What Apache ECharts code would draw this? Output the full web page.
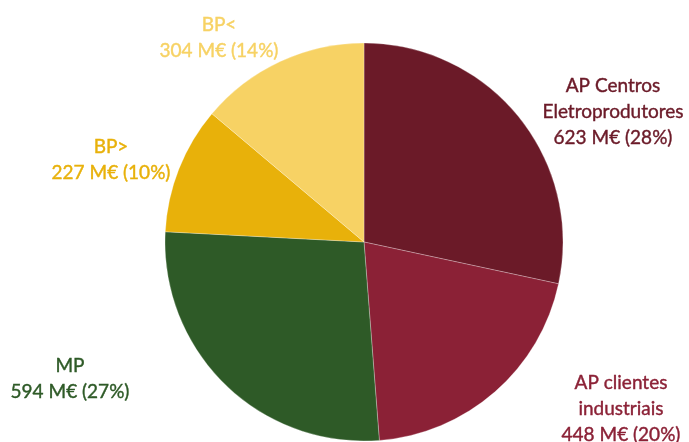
<!DOCTYPE html>
<html>
<head>
<meta charset="utf-8">
<script src="https://cdn.jsdelivr.net/npm/echarts@6/dist/echarts.min.js"></script>
<style>
html,body{margin:0;padding:0;background:#fff;}
#main{width:689px;height:442px;}
</style>
</head>
<body>
<div id="main"></div>
<script>
var categories = ['AP Centros\nEletroprodutores', 'AP clientes\nindustriais', 'MP', 'BP>', 'BP<'];
var values = [623, 448, 594, 227, 304];
var colors = ['#6B1A28', '#8B2136', '#2E5A27', '#E8B10A', '#F7D264'];
var labelPos = [[613, 112], [621, 409], [70, 379], [111, 160], [219, 38]];

var chart = echarts.init(document.getElementById('main'), null, {renderer: 'canvas'});
chart.setOption({
  animation: false,
  series: [{
    type: 'pie',
    center: [364, 242],
    radius: 199,
    startAngle: 90,
    clockwise: true,
    itemStyle: {borderColor: 'rgba(255,255,255,0.45)', borderWidth: 0.6},
    data: categories.map(function (c, i) {
      return {
        name: c, value: values[i],
        itemStyle: {color: colors[i]},
        label: {color: colors[i], textBorderColor: colors[i]}
      };
    }),
    label: {
      show: true,
      position: 'outside',
      fontFamily: 'Lato',
      fontSize: 19,
      lineHeight: 26,
      align: 'center',
      overflow: 'none',
      bleedMargin: 0,
      textBorderWidth: 0.4,
      formatter: function (p) {
        return p.name + '\n' + p.value + ' M€ (' + Math.round(p.percent) + '%)';
      }
    },
    labelLine: {show: false},
    labelLayout: function (p) {
      var pos = labelPos[p.dataIndex];
      return {x: pos[0], y: pos[1], align: 'center', verticalAlign: 'middle'};
    }
  }]
});
</script>
</body>
</html>
